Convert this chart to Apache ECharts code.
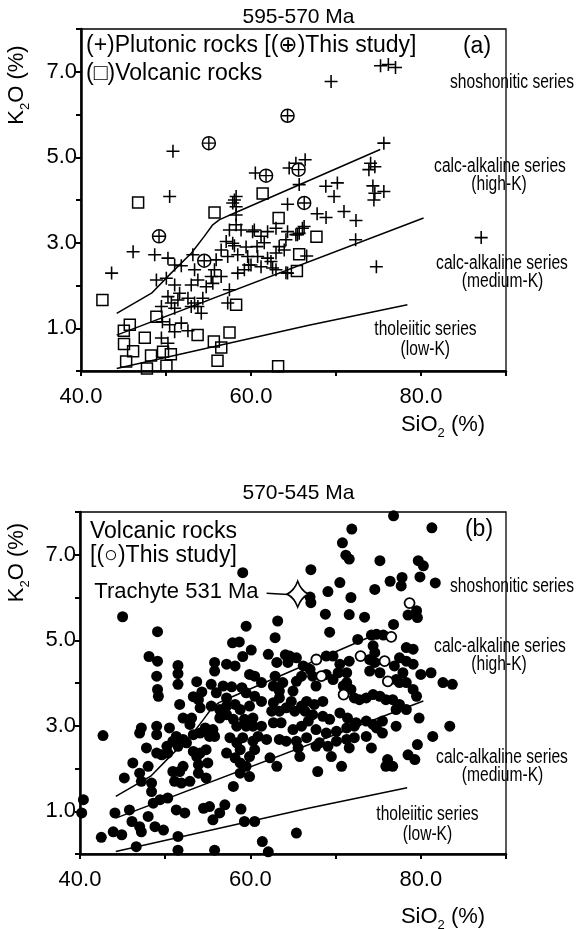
<!DOCTYPE html>
<html><head><meta charset="utf-8">
<script src="https://cdn.jsdelivr.net/npm/echarts@6/dist/echarts.min.js"></script>
<style>html,body{margin:0;padding:0;background:#fff}#c{width:580px;height:929px}</style>
</head><body><div id="c"></div>
<script>
// ---------- tick labels ----------
const xTickLabels = ['40.0', '60.0', '80.0'];
const yTickLabels = ['1.0', '3.0', '5.0', '7.0'];

// ---------- boundary lines (SiO2, K2O) ----------
const boundaryShoshoniticHighK = [[44.2,1.35],[48.3,1.82],[50.6,2.29],[53.0,2.76],[54.5,3.15],[55.5,3.42],[56.3,3.54],[58.0,3.69],[75.2,5.18]];
const boundaryHighMediumK = [[44.2,0.84],[80.3,3.58]];
const boundaryMediumLowK = [[44.2,0.06],[66.8,1.07],[78.4,1.55]];

// ---------- panel (a) 595-570 Ma ----------
const plutonicRocks = [[50.82,5.14],[50.43,4.08],[60.51,4.63],[58.25,4.08],[57.85,3.93],[69.42,6.77],[75.24,7.14],[76.16,7.17],[77.0,7.10],[75.63,5.33],[64.49,4.75],[65.28,4.86],[66.37,4.94],[65.67,4.36],[68.8,4.32],[70.16,4.40],[69.77,4.08],[74.07,4.86],[74.57,4.78],[73.87,4.71],[74.34,4.33],[75.63,4.20],[74.57,4.16],[74.46,4.00],[64.3,3.90],[67.78,3.68],[68.83,3.59],[70.94,3.73],[72.35,3.52],[66.25,3.38],[65.67,3.22],[72.31,3.07],[74.75,2.44],[87.08,3.12],[66.55,2.69],[58.05,4.00],[58.25,3.84],[58.25,3.65],[58.25,3.42],[57.46,3.30],[58.83,3.30],[60.39,3.30],[61.18,3.15],[61.95,3.26],[62.94,3.34],[64.3,3.26],[65.47,3.19],[57.08,3.03],[58.05,2.93],[59.42,2.90],[60.71,2.91],[61.56,3.00],[63.32,2.91],[64.11,3.07],[56.49,2.83],[57.26,2.68],[58.44,2.72],[59.61,2.68],[60.78,2.68],[61.95,2.64],[62.94,2.76],[63.91,2.83],[55.9,2.60],[46.13,2.79],[48.67,2.72],[50.23,2.64],[51.02,2.48],[51.8,2.46],[53.16,2.72],[43.6,2.29],[53.36,2.37],[55.7,2.37],[56.49,2.21],[55.32,2.21],[58.44,2.29],[59.22,2.37],[60.0,2.48],[61.18,2.44],[62.35,2.56],[62.94,2.37],[64.3,2.29],[48.87,2.13],[50.04,2.17],[51.02,2.01],[52.97,2.01],[53.75,2.13],[54.73,1.97],[55.51,2.05],[57.46,1.90],[57.26,1.59],[50.23,1.74],[51.4,1.66],[52.58,1.70],[53.36,1.59],[54.33,1.70],[53.75,1.51],[49.46,1.51],[50.63,1.59],[51.02,1.47],[52.97,1.51],[54.15,1.35],[50.43,1.08],[51.8,1.12],[52.58,0.94],[51.02,0.92],[49.46,0.77],[50.23,0.65],[49.58,1.15],[51.6,1.82],[60.19,3.26],[62.54,2.41],[59.72,2.48],[64.11,2.30],[66.05,3.34],[65.28,3.19],[57.85,2.99]];
const plutonicThisStudy = [[64.3,5.97],[55.04,5.33],[61.77,4.57],[65.6,4.71],[66.26,3.93],[49.18,3.15],[54.5,2.58]];
const volcanicRocksA = [[46.72,3.94],[55.71,3.71],[61.37,4.15],[63.25,3.58],[67.70,3.14],[65.67,2.73],[65.40,2.34],[42.52,1.66],[48.87,1.27],[58.25,1.55],[45.74,1.08],[45.04,0.94],[47.50,0.78],[45.06,0.63],[46.13,0.46],[48.24,0.36],[49.65,0.45],[50.57,0.39],[45.31,0.22],[47.76,0.06],[50.05,0.12],[53.72,0.84],[55.63,0.69],[56.50,0.55],[57.47,0.90],[56.06,0.24],[63.19,0.11]];

// ---------- panel (b) 570-545 Ma ----------
const volcanicRocksB = [
[76.8,7.91],[71.9,7.60],[81.3,7.63],[70.8,7.28],[71.2,6.99],[71.6,6.90],[75.2,6.86],[79.7,6.86],[80.3,6.74],[67.1,6.65],[59.1,6.58],[70.5,6.35],[69.1,6.14],[71.8,6.00],[74.6,6.19],[76.4,6.38],[77.8,6.47],[77.7,6.27],[79.9,6.48],[81.7,6.34],[67.0,6.01],[67.1,5.88],[68.8,5.61],[71.6,5.60],[73.4,5.54],[78.5,5.59],[79.5,5.69],[79.6,5.53],[76.8,5.37],[63.2,5.45],[69.3,5.19],[72.6,5.02],[74.2,5.12],[74.8,5.14],[75.6,5.12],[62.9,5.06],[59.5,5.33],[45.0,5.55],[49.1,5.20],[57.9,4.94],[58.7,4.96],[60.1,4.77],[59.1,4.62],[62.1,4.67],[64.1,4.66],[48.1,4.62],[49.1,4.51],
[74.4,4.87],[74.6,4.71],[74.0,4.55],[78.3,4.83],[79.1,4.79],[79.1,4.44],[76.9,4.40],[77.9,4.24],[78.3,4.01],[77.1,4.08],[80.0,4.20],[81.2,4.24],[82.6,4.01],[83.7,3.97],[71.6,4.51],[74.0,4.28],[75.2,4.24],[69.7,4.63],[70.3,4.24],[71.3,4.24],[70.9,3.93],[72.2,3.65],[66.2,4.40],[67.0,4.32],[65.4,4.04],[66.0,4.16],[67.3,4.16],[67.7,3.93],[64.6,4.63],[64.4,4.48],[63.1,4.48],[62.9,4.16],[63.8,4.01],[63.4,3.81],[65.0,3.81],[64.8,3.57],[66.0,3.46],
[65.4,4.59],[68.9,4.63],[70.5,4.44],[74.6,4.48],[77.5,4.59],[78.3,4.51],[77.5,4.01],[79.1,3.85],[59.0,3.89],[59.5,3.77],[60.5,4.16],[61.3,4.01],[68.9,4.20],[69.7,4.08],[71.3,4.01],[71.8,3.85],[72.8,3.61],[73.6,3.65],[74.4,3.73],[75.2,3.69],[75.9,3.61],[76.7,3.61],[77.5,3.50],[78.3,3.38],[79.5,3.69],[60.5,3.69],[61.3,3.57],[63.4,3.65],[66.6,3.57],[67.5,3.50],[68.5,3.57],
[55.8,4.48],[57.2,4.44],[58.2,4.40],[55.8,4.28],[59.9,4.20],[53.7,4.03],[55.4,3.97],[56.8,3.93],[57.8,3.91],[62.7,3.93],[54.3,3.79],[53.3,3.68],[56.0,3.77],[57.2,3.65],[51.5,4.41],[51.5,4.22],[49.0,4.16],[51.5,3.97],[49.1,3.85],[49.2,3.69],
[51.7,3.50],[54.1,3.42],[53.9,3.61],[55.4,3.46],[56.4,3.38],[57.2,3.46],[58.2,3.50],[58.8,3.38],[62.7,3.54],[52.1,3.18],[53.1,3.18],[52.9,3.03],[54.7,2.95],[55.6,2.91],[56.4,3.18],[57.2,3.26],[58.0,3.15],[58.4,2.99],[60.3,3.18],[63.4,3.34],[59.5,2.99],[60.3,2.99],[61.3,2.99],[47.2,2.95],[47.0,2.83],[49.0,2.99],[49.0,2.79],[50.5,2.95],[42.7,2.77],[51.3,2.75],[52.1,2.68],[53.3,2.79],[54.1,2.83],[55.2,2.75],[55.8,2.75],[57.6,2.72],[58.4,2.60],[59.1,2.72],[60.3,2.64],[60.9,2.75],[61.9,2.68],[47.8,2.48],[49.0,2.36],[50.2,2.52],[50.9,2.64],[51.5,2.52],[52.5,2.60],[53.3,2.40],[54.1,2.36],[54.8,2.44],[49.6,2.32],[50.3,2.36],[57.2,2.36],[58.2,2.25],[58.8,2.44],[59.9,2.28],[60.5,2.44],
[64.2,3.42],[63.6,3.07],[64.2,2.64],
[59.9,3.46],[59.3,3.15],[62.5,3.34],[65.2,3.34],[66.4,3.34],[67.3,3.26],[68.5,3.22],[69.3,3.15],[70.5,3.30],[71.4,3.18],[72.4,3.07],[73.6,3.11],[74.4,3.03],[75.5,3.11],[77.1,3.38],[79.8,3.18],[62.7,3.07],[65.0,2.91],[66.0,2.99],[66.8,3.11],[67.7,2.91],[68.9,2.83],[70.1,2.87],[71.3,2.95],[72.2,2.99],[73.6,2.75],[74.8,2.95],[75.5,2.83],[77.1,2.99],[81.4,2.75],[83.4,2.99],[63.4,2.68],[65.4,2.64],[66.6,2.72],[68.1,2.60],[69.1,2.52],[70.1,2.64],[71.3,2.68],[72.2,2.72],[71.6,2.48],[74.2,2.48],[79.6,2.56],[78.5,2.32],
[67.7,2.52],[79.3,2.21],[76.1,2.21],[75.9,2.05],[76.7,2.05],[70.7,2.05],[69.5,2.28],[67.9,1.93],[65.8,2.28],[65.6,2.48],[63.1,2.05],[62.3,2.25],
[46.2,2.13],[48.0,2.05],[53.7,2.28],[53.9,2.09],[52.1,2.05],[55.0,2.13],[59.5,2.05],[45.2,1.78],[47.0,1.89],[47.2,1.70],[48.4,1.66],[48.4,1.46],[50.9,1.93],[51.7,1.93],[51.1,1.70],[51.9,1.66],[52.9,1.70],[53.9,1.89],[54.8,1.78],[58.0,1.58],[58.8,1.89],[59.9,1.81],[40.4,1.27],[40.2,0.96],[44.1,0.96],[45.8,1.03],[46.1,0.76],[47.0,0.64],[47.2,0.52],[48.0,0.88],[48.6,1.19],[49.4,1.27],[50.3,1.31],[51.3,1.03],[52.3,0.96],[54.5,1.07],[55.2,1.11],[57.0,1.15],[55.6,0.80],[56.4,0.96],[58.9,1.05],[59.3,0.76],[60.5,0.76],[43.9,0.52],[44.9,0.45],[42.5,0.39],[48.8,0.64],[49.8,0.56],[51.5,0.41],[46.6,0.17],[51.5,0.09],[55.8,0.09],[61.4,0.29],[62.1,0.05],[58.8,2.13],[65.4,0.49]
];
const volcanicThisStudyB = [[78.68,5.87],[76.53,5.08],[75.75,4.51],[72.93,4.63],[67.74,4.55],[68.33,4.16],[76.13,4.04],[70.94,3.73]];
const trachyte531 = [[65.55,6.08]];
const trachyteLeader = [[61.9,6.10],[64.4,6.07]];

// ---------- styling ----------
const FONT = '"Liberation Sans", Arial, Helvetica, "DejaVu Sans", sans-serif';
const PLUS = 'path://M44,0H56V44H100V56H56V100H44V56H0V44H44Z';
const STAR = 'path://M50,0 Q65,35 100,50 Q65,65 50,100 Q35,65 0,50 Q35,35 50,0Z';

function xAxisDef(gi) {
  return {
    gridIndex: gi, type: 'value', min: 40, max: 90, interval: 10,
    axisLine: { show: true, onZero: false, lineStyle: { color: '#000', width: 2.5 } },
    axisTick: { show: true, inside: false, length: 5, lineStyle: { color: '#000', width: 2 } },
    axisLabel: {
      margin: 15, color: '#000', fontSize: 22, fontFamily: FONT,
      formatter: v => { const s = v.toFixed(1); return xTickLabels.includes(s) ? s : ''; }
    },
    splitLine: { show: false }
  };
}
function yAxisDef(gi) {
  return {
    gridIndex: gi, type: 'value', min: 0, max: 8, interval: 1,
    axisLine: { show: true, onZero: false, lineStyle: { color: '#000', width: 2.5 } },
    axisTick: { show: true, inside: false, length: 5, lineStyle: { color: '#000', width: 2 } },
    axisLabel: {
      margin: 4, color: '#000', fontSize: 22, fontFamily: FONT,
      formatter: v => { const s = v.toFixed(1); return yTickLabels.includes(s) ? s : ''; }
    },
    splitLine: { show: false }
  };
}
function lineSeries(data, gi) {
  return { type: 'line', xAxisIndex: gi, yAxisIndex: gi, data, symbol: 'none', silent: true, z: 1,
    smooth: false, lineStyle: { color: '#000', width: 1.5 }, animation: false };
}
function t(x, y, text, size, align, sx) {
  return { type: 'text', x, y, scaleX: sx || 1, silent: true, z: 10,
    style: { text, fill: '#000', fontSize: size, fontFamily: FONT, align: align || 'center', verticalAlign: 'middle' } };
}
function nt(x, y, text) { return t(x, y, text, 19.5, 'center', 0.8); }
function sub(x, y, main1, s, main2, rot) {
  return { type: 'text', x, y, rotation: rot || 0, silent: true, z: 10,
    style: { text: '{n|' + main1 + '}{s|' + s + '}{n|' + main2 + '}', align: 'center', verticalAlign: 'middle',
      rich: { n: { fontSize: 22, fontFamily: FONT, fill: '#000', color: '#000', lineHeight: 30 },
              s: { fontSize: 13, fontFamily: FONT, fill: '#000', color: '#000', lineHeight: 13, verticalAlign: 'bottom' } } } };
}

const graphics = [
  // panel a
  t(298.5, 17.5, '595-570 Ma', 21),
  t(86, 46, '(+)Plutonic rocks [(\u2295)This study]', 23, 'left'),
  t(86, 74, '(\u25A1)Volcanic rocks', 23, 'left'),
  t(477, 47, '(a)', 23),
  nt(512, 83, 'shoshonitic series'),
  nt(500, 167, 'calc-alkaline series'),
  nt(499, 185, '(high-K)'),
  nt(502, 263.5, 'calc-alkaline series'),
  nt(502.5, 281.7, '(medium-K)'),
  nt(425.5, 330, 'tholeiitic series'),
  nt(425.3, 350, '(low-K)'),
  sub(17, 85, 'K', '2', 'O (%)', Math.PI / 2),
  sub(443, 425, 'SiO', '2', ' (%)'),
  // panel b
  t(298.5, 493, '570-545 Ma', 21),
  t(90, 532, 'Volcanic rocks', 23, 'left'),
  t(90, 555.5, '[(\u25CB)This study]', 23, 'left'),
  t(94.3, 592, 'Trachyte 531 Ma', 22, 'left'),
  t(479, 530, '(b)', 23),
  nt(512, 587, 'shoshonitic series'),
  nt(500, 647, 'calc-alkaline series'),
  nt(499, 665, '(high-K)'),
  nt(502, 757.5, 'calc-alkaline series'),
  nt(502.5, 775.5, '(medium-K)'),
  nt(427.5, 815, 'tholeiitic series'),
  nt(427.5, 834.5, '(low-K)'),
  sub(17, 562.5, 'K', '2', 'O (%)', Math.PI / 2),
  sub(443, 916.5, 'SiO', '2', ' (%)')
];

const chart = echarts.init(document.getElementById('c'), null, { renderer: 'canvas' });
chart.setOption({
  animation: false,
  backgroundColor: '#fff',
  grid: [
    { left: 81, top: 29, width: 425, height: 342, show: true, borderColor: '#000', borderWidth: 1.3, backgroundColor: 'rgba(0,0,0,0)' },
    { left: 80, top: 512, width: 426, height: 342, show: true, borderColor: '#000', borderWidth: 1.3, backgroundColor: 'rgba(0,0,0,0)' }
  ],
  xAxis: [xAxisDef(0), xAxisDef(1)],
  yAxis: [yAxisDef(0), yAxisDef(1)],
  series: [
    lineSeries(boundaryShoshoniticHighK, 0),
    lineSeries(boundaryHighMediumK, 0),
    lineSeries(boundaryMediumLowK, 0),
    { name: 'Volcanic rocks (a)', type: 'scatter', xAxisIndex: 0, yAxisIndex: 0, data: volcanicRocksA, clip: false, z: 2,
      symbol: 'rect', symbolSize: 11, itemStyle: { color: 'rgba(0,0,0,0)', borderColor: '#000', borderWidth: 1.5, opacity: 1 } },
    { name: 'Plutonic rocks', type: 'scatter', xAxisIndex: 0, yAxisIndex: 0, data: plutonicRocks, clip: false, z: 3,
      symbol: PLUS, symbolSize: 13, itemStyle: { color: '#000', opacity: 1 } },
    { name: 'This study circle', type: 'scatter', xAxisIndex: 0, yAxisIndex: 0, data: plutonicThisStudy, clip: false, z: 4,
      symbol: 'circle', symbolSize: 13, itemStyle: { color: '#fff', borderColor: '#000', borderWidth: 1.5, opacity: 1 } },
    { name: 'This study plus', type: 'scatter', xAxisIndex: 0, yAxisIndex: 0, data: plutonicThisStudy, clip: false, z: 5,
      symbol: PLUS, symbolSize: 12, itemStyle: { color: '#000', opacity: 1 } },

    lineSeries(boundaryShoshoniticHighK, 1),
    lineSeries(boundaryHighMediumK, 1),
    lineSeries(boundaryMediumLowK, 1),
    { name: 'Volcanic rocks (b)', type: 'scatter', xAxisIndex: 1, yAxisIndex: 1, data: volcanicRocksB, clip: false, z: 2,
      symbol: 'circle', symbolSize: 11, itemStyle: { color: '#000', opacity: 1 } },
    { name: 'This study (b)', type: 'scatter', xAxisIndex: 1, yAxisIndex: 1, data: volcanicThisStudyB, clip: false, z: 3,
      symbol: 'circle', symbolSize: 10, itemStyle: { color: '#fff', borderColor: '#000', borderWidth: 1.8, opacity: 1 } },
    { type: 'line', xAxisIndex: 1, yAxisIndex: 1, data: trachyteLeader, symbol: 'none', silent: true, z: 3,
      lineStyle: { color: '#000', width: 1.5 } },
    { name: 'Trachyte 531 Ma', type: 'scatter', xAxisIndex: 1, yAxisIndex: 1, data: trachyte531, clip: false, z: 4,
      symbol: STAR, symbolSize: [21, 26], itemStyle: { color: '#fff', borderColor: '#000', borderWidth: 1.6, opacity: 1 } }
  ],
  graphic: graphics
});
</script></body></html>
